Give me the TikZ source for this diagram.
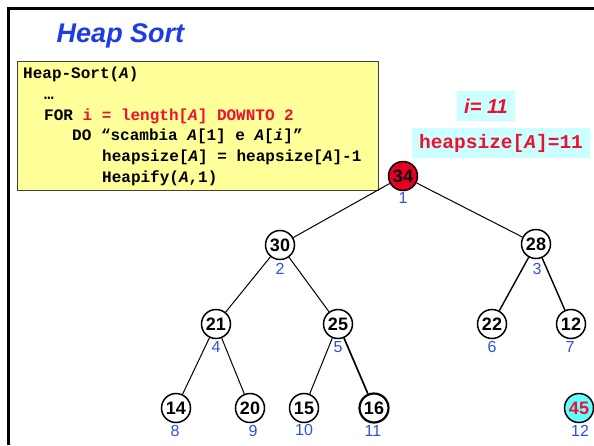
\documentclass[tikz,border=0pt]{standalone}
\usepackage{fontspec}
\setmainfont{Liberation Sans}
\newfontfamily\codefont{Liberation Mono}
\definecolor{titleblue}{RGB}{30,60,230}
\definecolor{idxblue}{RGB}{45,80,225}
\definecolor{hred}{RGB}{238,16,48}
\definecolor{codeyellow}{RGB}{255,255,153}
\definecolor{boxcyan}{RGB}{204,255,255}
\definecolor{leafcyan}{RGB}{102,255,255}
\definecolor{rootred}{RGB}{232,0,36}
\tikzset{
  code/.style={inner sep=0pt, anchor=base west, font=\codefont\fontsize{16}{18}\selectfont\bfseries},
  tnode/.style={circle, draw, line width=1.5pt, fill=white, minimum size=29pt, inner sep=0pt,
    font=\fontsize{18}{20}\selectfont\bfseries},
  idx/.style={inner sep=0pt, text=idxblue, font=\fontsize{16}{17}\selectfont},
  edge/.style={line width=1pt},
  infobox/.style={fill=boxcyan, inner sep=0pt, minimum height=30pt}
}
\begin{document}
\begin{tikzpicture}[x=1pt,y=-1pt]
\useasboundingbox (0,0) rectangle (594,445);
% frame
\draw[line width=3pt] (8.5,445) -- (8.5,8.5) -- (594,8.5);
% title
\node[text=titleblue, font=\fontsize{27}{30}\selectfont\bfseries\itshape, inner sep=0pt] (title) at (120.5,36) {Heap Sort};
% code box
\node[draw=black!75, line width=0.8pt, fill=codeyellow, minimum width=361pt, minimum height=129pt, inner sep=0pt] (codebox) at (197.5,125.5) {};
\node[code] (c1) at (23,78) {Heap-Sort(\textit{A})};
\node[code] (c2) at (44,99.5) {…};
\node[code] (c3) at (44,120) {FOR \textcolor{hred}{i = length[\textit{A}] DOWNTO 2}};
\node[code] (c4) at (72,140.5) {DO “scambia \textit{A}[1] e \textit{A}[\textit{i}]”};
\node[code] (c5) at (102,161) {heapsize[\textit{A}] = heapsize[\textit{A}]-1};
\node[code] (c6) at (102,182) {Heapify(\textit{A},1)};
% info boxes
\node[infobox, minimum width=58pt, text=hred, font=\fontsize{20}{22}\selectfont\bfseries\itshape] (ibox) at (486,106) {i= 11};
\node[infobox, minimum width=178pt, text=hred, font=\codefont\fontsize{19.5}{21}\selectfont\bfseries] (hbox) at (501,143) {heapsize[\textit{A}]=11};
% tree nodes
\node[tnode, fill=rootred] (n1) at (403,176) {34};
\node[tnode] (n2) at (280,245) {30};
\node[tnode] (n3) at (536,244) {28};
\node[tnode] (n4) at (216,324) {21};
\node[tnode] (n5) at (338,324) {25};
\node[tnode] (n6) at (492,324) {22};
\node[tnode] (n7) at (571,324) {12};
\node[tnode] (n8) at (176,408) {14};
\node[tnode] (n9) at (250,408) {20};
\node[tnode] (n10) at (304,408) {15};
\node[tnode, line width=2.2pt] (n11) at (374,408) {16};
\node[tnode, fill=leafcyan, text=hred] (n12) at (579,408) {45};
% edges
\draw[edge] (n1) -- (n2);
\draw[edge] (n1) -- (n3);
\draw[edge] (n2) -- (n4);
\draw[edge] (n2) -- (n5);
\draw[edge, line width=1.4pt] (n3) -- (n6);
\draw[edge, line width=1.4pt] (n3) -- (n7);
\draw[edge] (n4) -- (n8);
\draw[edge] (n4) -- (n9);
\draw[edge] (n5) -- (n10);
\draw[edge, line width=1.7pt] (n5) -- (n11);
% indices
\node[idx] (i1) at (403,198) {1};
\node[idx] (i2) at (280,269) {2};
\node[idx] (i3) at (537,269) {3};
\node[idx] (i4) at (216,347) {4};
\node[idx] (i5) at (338,347) {5};
\node[idx] (i6) at (492,347) {6};
\node[idx] (i7) at (570,347) {7};
\node[idx] (i8) at (175,431) {8};
\node[idx] (i9) at (253,431) {9};
\node[idx] (i10) at (304,430) {10};
\node[idx] (i11) at (373,431) {11};
\node[idx] (i12) at (580,431) {12};
\end{tikzpicture}
\end{document}
